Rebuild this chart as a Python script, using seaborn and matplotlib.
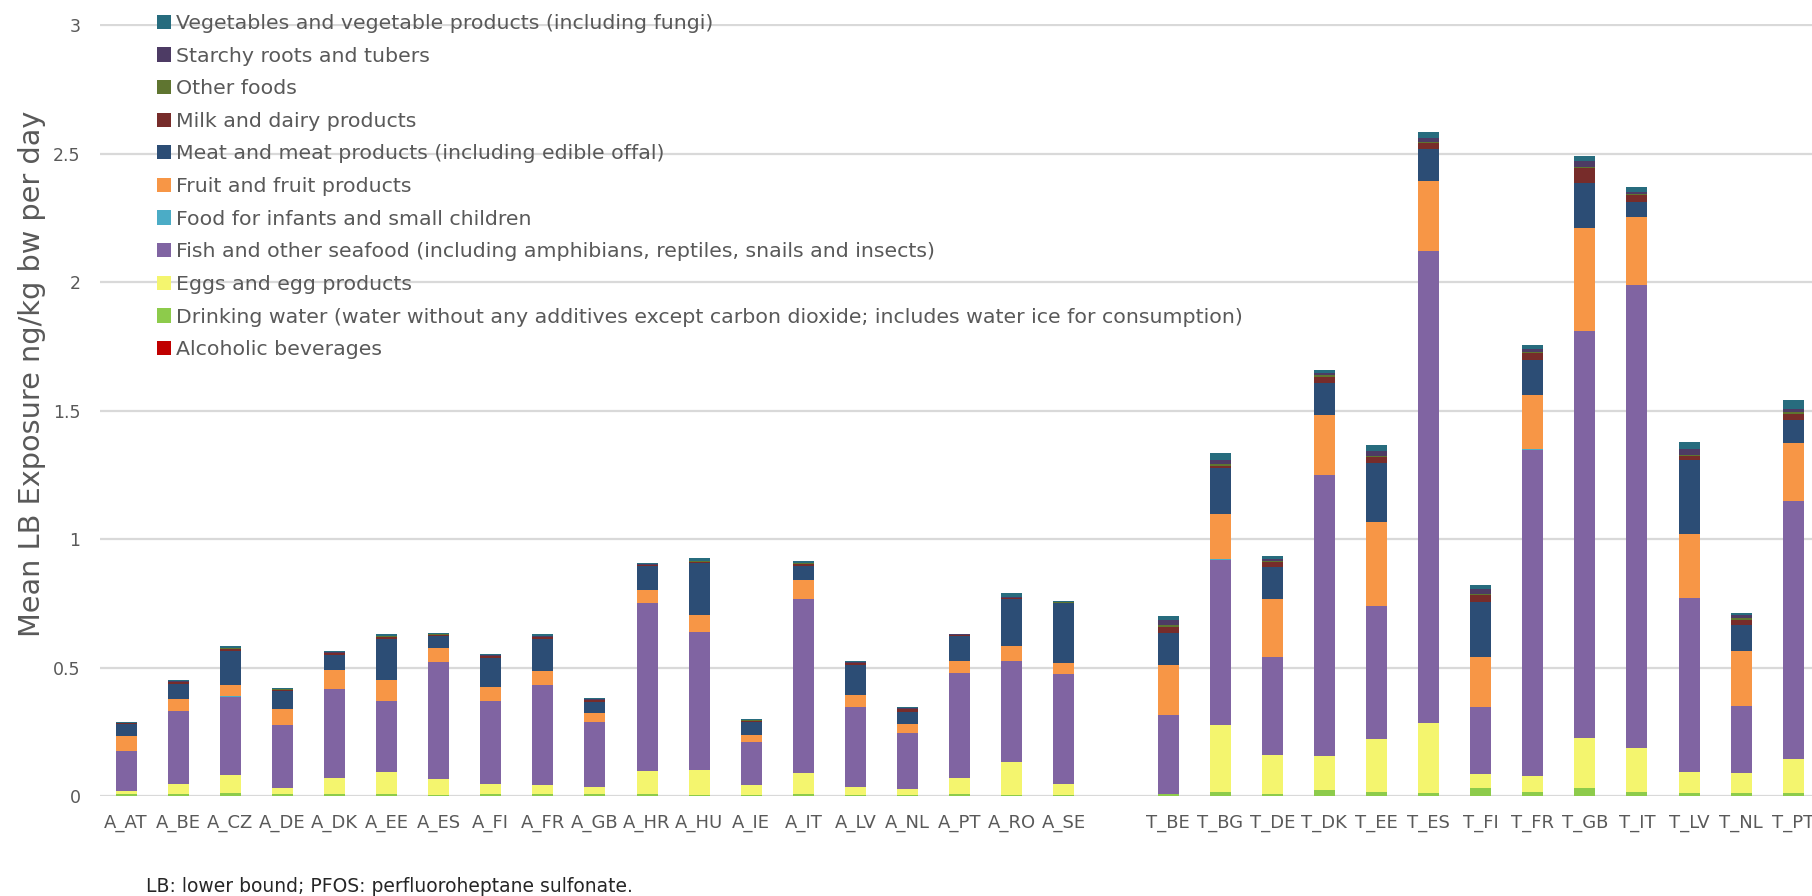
import matplotlib
matplotlib.use("Agg")
import matplotlib.pyplot as plt
from matplotlib.patches import Patch
import numpy as np
import pandas as pd
import seaborn as sns

# Country codes: adults (A_) and toddlers (T_)
countries_a = ["A_AT", "A_BE", "A_CZ", "A_DE", "A_DK", "A_EE", "A_ES", "A_FI", "A_FR", "A_GB",
               "A_HR", "A_HU", "A_IE", "A_IT", "A_LV", "A_NL", "A_PT", "A_RO", "A_SE"]
countries_t = ["T_BE", "T_BG", "T_DE", "T_DK", "T_EE", "T_ES", "T_FI", "T_FR", "T_GB", "T_IT",
               "T_LV", "T_NL", "T_PT"]

# Mean LB exposure (ng/kg bw per day) by food group; adults first, then toddlers
alcoholic = [0.000] * 19 + [0.000] * 13
water = [0.008, 0.006, 0.012, 0.006, 0.008, 0.008, 0.002, 0.009, 0.009, 0.006,
         0.009, 0.002, 0.002, 0.009, 0.002, 0.002, 0.009, 0.002, 0.002,
         0.009, 0.016, 0.009, 0.022, 0.016, 0.012, 0.030, 0.016, 0.030, 0.016, 0.010, 0.010, 0.010]
eggs = [0.010, 0.041, 0.070, 0.026, 0.063, 0.085, 0.065, 0.039, 0.034, 0.028,
        0.088, 0.100, 0.041, 0.082, 0.032, 0.027, 0.060, 0.132, 0.046,
        0.000, 0.259, 0.151, 0.132, 0.204, 0.273, 0.056, 0.061, 0.197, 0.172, 0.085, 0.079, 0.133]
fish = [0.156, 0.285, 0.305, 0.243, 0.347, 0.277, 0.453, 0.323, 0.389, 0.254,
        0.656, 0.535, 0.167, 0.676, 0.311, 0.216, 0.410, 0.393, 0.425,
        0.306, 0.645, 0.380, 1.094, 0.518, 1.838, 0.260, 1.271, 1.582, 1.801, 0.674, 0.260, 1.005]
infants = [0.000, 0.000, 0.001, 0.000, 0.000, 0.000, 0.000, 0.000, 0.000, 0.000,
           0.000, 0.000, 0.000, 0.000, 0.000, 0.000, 0.000, 0.000, 0.000,
           0.001, 0.001, 0.001, 0.001, 0.001, 0.000, 0.001, 0.001, 0.001, 0.001, 0.001, 0.001, 0.001]
fruit = [0.061, 0.045, 0.046, 0.065, 0.074, 0.081, 0.057, 0.054, 0.056, 0.035,
         0.048, 0.069, 0.026, 0.072, 0.049, 0.035, 0.047, 0.057, 0.045,
         0.193, 0.176, 0.224, 0.233, 0.328, 0.272, 0.194, 0.210, 0.400, 0.264, 0.250, 0.216, 0.226]
meat = [0.046, 0.059, 0.132, 0.070, 0.058, 0.161, 0.044, 0.112, 0.122, 0.044,
        0.095, 0.202, 0.053, 0.056, 0.115, 0.047, 0.098, 0.183, 0.232,
        0.126, 0.179, 0.126, 0.125, 0.230, 0.124, 0.216, 0.139, 0.177, 0.060, 0.286, 0.100, 0.089]
milk = [0.003, 0.006, 0.008, 0.002, 0.006, 0.008, 0.007, 0.008, 0.007, 0.007,
        0.002, 0.002, 0.002, 0.008, 0.007, 0.010, 0.001, 0.002, 0.002,
        0.024, 0.009, 0.018, 0.023, 0.023, 0.022, 0.025, 0.025, 0.056, 0.025, 0.018, 0.021, 0.022]
other = [0.001, 0.002, 0.002, 0.004, 0.001, 0.001, 0.001, 0.001, 0.002, 0.001,
         0.003, 0.004, 0.003, 0.002, 0.002, 0.002, 0.003, 0.003, 0.003,
         0.006, 0.008, 0.005, 0.007, 0.005, 0.004, 0.005, 0.007, 0.005, 0.005, 0.005, 0.005, 0.007]
starchy = [0.000, 0.002, 0.002, 0.001, 0.002, 0.003, 0.001, 0.002, 0.003, 0.002,
           0.001, 0.002, 0.001, 0.002, 0.002, 0.002, 0.001, 0.003, 0.002,
           0.021, 0.015, 0.010, 0.009, 0.016, 0.018, 0.019, 0.008, 0.023, 0.007, 0.023, 0.013, 0.013]
vegetables = [0.002, 0.005, 0.004, 0.003, 0.004, 0.006, 0.003, 0.006, 0.010, 0.003,
              0.006, 0.010, 0.005, 0.006, 0.006, 0.005, 0.001, 0.015, 0.003,
              0.013, 0.028, 0.010, 0.013, 0.026, 0.021, 0.015, 0.019, 0.019, 0.019, 0.026, 0.008, 0.035]

# Food groups from the bottom of each stack to the top
groups = [
    ("Alcoholic beverages", alcoholic, "#C00000"),
    ("Drinking water (water without any additives except carbon dioxide; includes water ice for consumption)", water, "#8DCB4B"),
    ("Eggs and egg products", eggs, "#F4F56E"),
    ("Fish and other seafood (including amphibians, reptiles, snails and insects)", fish, "#8064A2"),
    ("Food for infants and small children", infants, "#4BACC6"),
    ("Fruit and fruit products", fruit, "#F79646"),
    ("Meat and meat products (including edible offal)", meat, "#2C4D75"),
    ("Milk and dairy products", milk, "#772C2A"),
    ("Other foods", other, "#5F7530"),
    ("Starchy roots and tubers", starchy, "#4D3B64"),
    ("Vegetables and vegetable products (including fungi)", vegetables, "#276C7E"),
]

spacer = ""
order = countries_a + [spacer] + countries_t

df = pd.DataFrame({"country": countries_a + countries_t})
cum = np.zeros(len(df))
cum_cols = []
for i, (name, vals, col) in enumerate(groups):
    cum = cum + np.asarray(vals)
    key = f"cum_{i}"
    df[key] = cum
    cum_cols.append(key)
gap_row = {"country": spacer}
gap_row.update({k: 0.0 for k in cum_cols})
df = pd.concat([df, pd.DataFrame([gap_row])], ignore_index=True)

sns.set_style("white")
plt.rcParams["font.family"] = ["DejaVu Sans"]

W, H = 1812, 896
fig = plt.figure(figsize=(W / 100, H / 100), dpi=100)
ax_left, ax_bottom, ax_right, ax_top = 100, 796, 1812, 24.5
ax = fig.add_axes([ax_left / W, (H - ax_bottom) / H, (ax_right - ax_left) / W, (ax_bottom - ax_top) / H])

# Stacked bars: draw cumulative totals from the top layer downwards
for (name, vals, col), key in reversed(list(zip(groups, cum_cols))):
    sns.barplot(data=df, x="country", y=key, order=order, color=col, saturation=1,
                width=0.403, errorbar=None, linewidth=0, ax=ax)

ax.set_xlim(-0.5, 32.36)
ax.set_ylim(0, 3.003)
ax.set_yticks([0, 0.5, 1, 1.5, 2, 2.5, 3])
ax.set_yticklabels(["0", "0.5", "1", "1.5", "2", "2.5", "3"])
ax.yaxis.grid(True, color="#D9D9D9", linewidth=1.6)
ax.xaxis.grid(False)
ax.set_axisbelow(True)
for s in ax.spines.values():
    s.set_visible(False)

ax.tick_params(axis="y", length=0, pad=14, labelsize=12.5, labelcolor="#595959")
ax.tick_params(axis="x", length=0, pad=13, labelsize=13, labelcolor="#595959")
ax.set_xlabel("")
ax.set_ylabel("Mean LB Exposure ng/kg bw per day", fontsize=20.7, color="#595959")
ax.yaxis.set_label_coords(-0.0317, 0.547)

handles = [Patch(facecolor=col, edgecolor="none", label=name) for name, vals, col in reversed(groups)]
leg = ax.legend(handles=handles, loc="upper left", bbox_to_anchor=(157 / W, (H - 14) / H),
                bbox_transform=fig.transFigure, frameon=False, fontsize=14.75,
                handlelength=0.7, handleheight=0.7, handletextpad=0.25,
                labelspacing=0.665, borderpad=0, borderaxespad=0)
for t in leg.get_texts():
    t.set_color("#595959")

fig.text(146 / W, (H - 892) / H, "LB: lower bound; PFOS: perfluoroheptane sulfonate.",
         fontsize=13.5, color="#262626", ha="left", va="baseline")

fig.savefig("out.png", dpi=100)
